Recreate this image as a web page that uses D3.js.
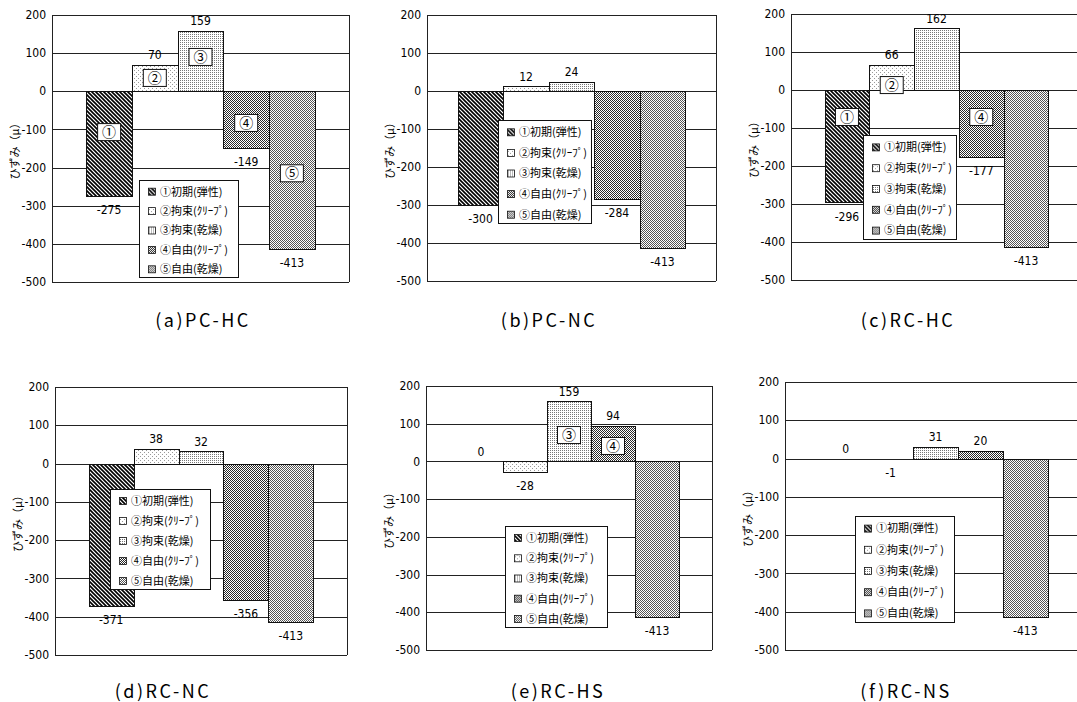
<!DOCTYPE html>
<meta charset="utf-8">
<body>
<svg id="chart"></svg>
</body>
<script src="https://cdn.jsdelivr.net/npm/d3@7"></script>
<script>

// series (legend entries), one bar each per panel
var series = ["①初期(弾性)", "②拘束(ｸﾘｰﾌﾟ)", "③拘束(乾燥)", "④自由(ｸﾘｰﾌﾟ)", "⑤自由(乾燥)"];
var markers = ["①", "②", "③", "④", "⑤"];
var panelNames = ["(a)PC-HC", "(b)PC-NC", "(c)RC-HC", "(d)RC-NC", "(e)RC-HS", "(f)RC-NS"];
var yTicks = [200, 100, 0, -100, -200, -300, -400, -500];
var yTitle = "ひずみ（μ）";

// strain values
var valuesA = [-275, 70, 159, -149, -413];
var valuesB = [-300, 12, 24, -284, -413];
var valuesC = [-296, 66, 162, -177, -413];
var valuesD = [-371, 38, 32, -356, -413];
var valuesE = [0, -28, 159, 94, -413];
var valuesF = [0, -1, 31, 20, -413];

// circled-number boxes: [series index, value where the box sits]
var boxesA = [[0, -107], [1, 35], [2, 90], [3, -83], [4, -215]];
var boxesC = [[0, -71], [1, 13], [3, -71]];
var boxesE = [[2, 70], [3, 41]];

var allValues = [valuesA, valuesB, valuesC, valuesD, valuesE, valuesF];
var allBoxes = [boxesA, [], boxesC, [], boxesE, []];

// panel layout in px: plot frame, legend box, caption centre
var layout = [
	{L: 52,  R: 349,  T: 15,  B: 282, pad: 0.75, lg: [139, 180, 99, 97],  cap: 203},
	{L: 427, R: 716,  T: 15,  B: 281, pad: 0.68, lg: [498, 120, 93, 103], cap: 549},
	{L: 791, R: 1082, T: 14,  B: 280, pad: 0.75, lg: [863, 135, 93, 104], cap: 908},
	{L: 55,  R: 347,  T: 387, B: 655, pad: 0.75, lg: [110, 489, 100, 100], cap: 163},
	{L: 426, R: 712,  T: 386, B: 650, pad: 0.75, lg: [505, 526, 102, 101], cap: 558},
	{L: 785, R: 1086, T: 382, B: 650, pad: 0.85, lg: [855, 516, 99, 106], cap: 906}
];
var capY = [327, 327, 327, 698, 698, 698];

var width = 1077, height = 702;
var svg = d3.select("#chart").attr("width", width).attr("height", height);
svg.append("rect").attr("width", width).attr("height", height).attr("fill", "#fff");

// fill patterns, like the scanned b/w print
var defs = svg.append("defs");
function pat(id, w, h) {
	var p = defs.append("pattern").attr("id", id)
		.attr("patternUnits", "userSpaceOnUse").attr("width", w).attr("height", h);
	p.append("rect").attr("width", w).attr("height", h).attr("fill", "#fff");
	return p;
}
function dots(p, pts, col) {
	pts.forEach(function(d) {
		p.append("rect").attr("x", d[0]).attr("y", d[1]).attr("width", 1).attr("height", 1).attr("fill", col);
	});
}
var p1 = pat("p1", 4, 4);
p1.append("path").attr("d", "M-1,-1L5,5M-1,3L1,5M3,-1L5,1")
	.attr("stroke", "#000").attr("stroke-width", 1.6);
var p2 = pat("p2", 4, 4);
dots(p2, [[0, 0], [2, 2]], "#999");
var p3 = pat("p3", 2, 2);
dots(p3, [[0, 0]], "#777");
var p4 = pat("p4", 2, 2);
dots(p4, [[0, 0], [1, 1]], "#2a2a2a");
var p5 = pat("p5", 2, 2);
dots(p5, [[0, 0], [1, 1]], "#555");
var fills = ["url(#p1)", "url(#p2)", "url(#p3)", "url(#p4)", "url(#p5)"];

var numFont = "'Liberation Sans Narrow', 'DejaVu Sans Condensed', 'Liberation Sans', sans-serif";
var jpFont = "'Noto Sans CJK JP', sans-serif";

layout.forEach(function(lay, pi) {
	var vals = allValues[pi];
	var g = svg.append("g").attr("class", "panel");

	var y = d3.scaleLinear().domain([-500, 200]).range([lay.B, lay.T]);
	var x = d3.scaleBand().domain(d3.range(series.length))
		.range([lay.L, lay.R]).paddingInner(0).paddingOuter(lay.pad);

	// gridlines + frame
	g.selectAll("line.grid").data(yTicks).enter().append("line")
		.attr("class", "grid")
		.attr("x1", lay.L).attr("x2", lay.R)
		.attr("y1", function(d) { return Math.round(y(d)) + 0.5; })
		.attr("y2", function(d) { return Math.round(y(d)) + 0.5; })
		.attr("stroke", "#222").attr("stroke-width", 1);
	g.append("line").attr("x1", lay.L + 0.5).attr("x2", lay.L + 0.5)
		.attr("y1", y(200)).attr("y2", y(-500)).attr("stroke", "#222");
	g.append("line").attr("x1", lay.R + 0.5).attr("x2", lay.R + 0.5)
		.attr("y1", y(200)).attr("y2", y(-500)).attr("stroke", "#222");

	// y axis labels
	g.selectAll("text.tick").data(yTicks).enter().append("text")
		.attr("x", lay.L - 6).attr("y", function(d) { return y(d); })
		.attr("dy", "0.35em").attr("text-anchor", "end")
		.attr("font-family", numFont).attr("font-size", 12)
		.text(function(d) { return d; });

	g.append("text")
		.attr("transform", "translate(" + (lay.L - 37) + "," + ((lay.T + lay.B) / 2) + ") rotate(-90)")
		.attr("text-anchor", "middle").attr("dy", "0.35em")
		.attr("font-family", jpFont).attr("font-size", 11)
		.text(yTitle);

	// bars
	g.selectAll("rect.bar").data(vals).enter().append("rect")
		.attr("class", "bar")
		.attr("x", function(d, i) { return Math.round(x(i)) + 0.5; })
		.attr("width", function(d, i) { return Math.round(x(i) + x.bandwidth()) - Math.round(x(i)); })
		.attr("y", function(d) { return Math.round(y(Math.max(d, 0))) + 0.5; })
		.attr("height", function(d) { return Math.abs(Math.round(y(d)) - Math.round(y(0))); })
		.attr("fill", function(d, i) { return fills[i]; })
		.attr("stroke", function(d) { return d === 0 ? "none" : "#111"; })
		.attr("stroke-width", 1);

	// value labels
	g.selectAll("text.val").data(vals).enter().append("text")
		.attr("x", function(d, i) { return x(i) + x.bandwidth() / 2; })
		.attr("y", function(d) { return d >= 0 ? y(d) - 10 : y(d) + 14; })
		.attr("dy", "0.35em").attr("text-anchor", "middle")
		.attr("font-family", numFont).attr("font-size", 12)
		.text(function(d) { return d; });

	// circled-number boxes inside bars
	var bx = g.selectAll("g.box").data(allBoxes[pi]).enter().append("g")
		.attr("transform", function(d) {
			return "translate(" + (x(d[0]) + x.bandwidth() / 2) + "," + y(d[1]) + ")";
		});
	bx.append("rect").attr("x", -11.5).attr("y", -8.5).attr("width", 23).attr("height", 17)
		.attr("fill", "#fff").attr("stroke", "#111");
	bx.append("text").attr("text-anchor", "middle").attr("dy", "0.36em")
		.attr("font-family", jpFont).attr("font-size", 14)
		.text(function(d) { return markers[d[0]]; });

	// legend
	var lg = lay.lg, rowH = lg[3] / 5;
	var leg = g.append("g").attr("transform", "translate(" + lg[0] + "," + lg[1] + ")");
	leg.append("rect").attr("x", 0.5).attr("y", 0.5).attr("width", lg[2]).attr("height", lg[3])
		.attr("fill", "#fff").attr("stroke", "#111");
	var rows = leg.selectAll("g.row").data(series).enter().append("g")
		.attr("transform", function(d, i) { return "translate(0," + (rowH * (i + 0.5) + 2) + ")"; });
	rows.append("rect").attr("x", 9.5).attr("y", -3.5).attr("width", 7).attr("height", 7)
		.attr("fill", function(d, i) { return fills[i]; })
		.attr("stroke", "#111").attr("stroke-width", 0.8);
	rows.append("text").attr("x", 21).attr("dy", "0.35em")
		.attr("font-family", jpFont).attr("font-size", 11)
		.text(function(d) { return d; });

	// caption
	svg.append("text").attr("x", lay.cap).attr("y", capY[pi])
		.attr("text-anchor", "middle")
		.attr("font-family", jpFont).attr("font-size", 18).attr("letter-spacing", 2.5)
		.text(panelNames[pi]);
});

</script>
<style>
	body { margin: 0; background: #fff; }
	svg { display: block; }
</style>
